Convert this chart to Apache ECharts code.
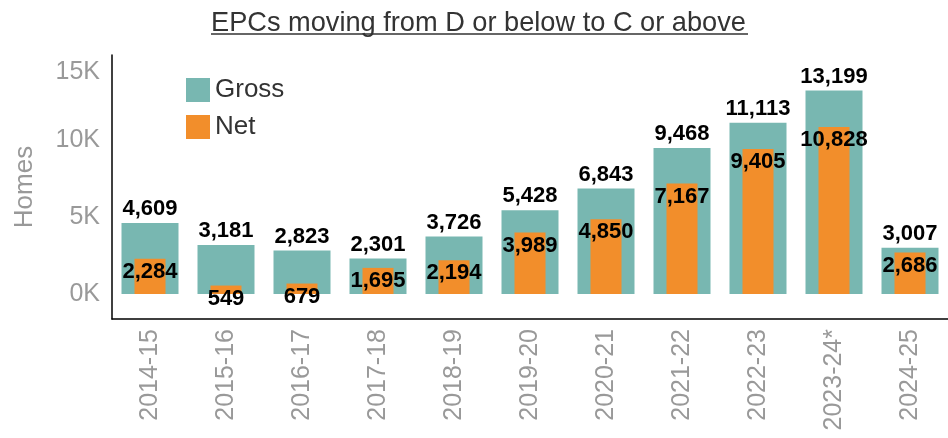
<!DOCTYPE html>
<html>
<head>
<meta charset="utf-8">
<script src="https://cdn.jsdelivr.net/npm/echarts@6/dist/echarts.min.js"></script>
<style>
  html, body { margin: 0; padding: 0; background: #fff; }
  #chart { width: 948px; height: 438px; }
</style>
</head>
<body>
<div id="chart"></div>
<script>
const categories = ['2014-15', '2015-16', '2016-17', '2017-18', '2018-19', '2019-20', '2020-21', '2021-22', '2022-23', '2023-24*', '2024-25']
const gross = [4609, 3181, 2823, 2301, 3726, 5428, 6843, 9468, 11113, 13199, 3007]
const net = [2284, 549, 679, 1695, 2194, 3989, 4850, 7167, 9405, 10828, 2686]
const yTicks = [0, 5000, 10000, 15000]

const FONT = '"Liberation Sans", Arial, sans-serif'
const fmt = (v) => v.toLocaleString('en-US')

const chart = echarts.init(document.getElementById('chart'))

chart.setOption({
  animation: false,
  title: {
    text: 'EPCs moving from D or below to C or above',
    left: 206,
    top: 5,
    textStyle: { fontFamily: FONT, fontSize: 27.2, fontWeight: 'normal', color: '#333' },
  },
  // underline under the title
  graphic: [
    {
      type: 'line',
      shape: { x1: 211, y1: 34, x2: 748, y2: 34 },
      style: { stroke: '#333', lineWidth: 1.5 },
    },
  ],
  legend: {
    orient: 'vertical',
    left: 181,
    top: 72,
    itemWidth: 24,
    itemHeight: 24,
    itemGap: 11,
    icon: 'rect',
    textStyle: { fontFamily: FONT, fontSize: 26, color: '#333' },
    data: ['Gross', 'Net'],
  },
  grid: { left: 112, right: 0, top: 55, bottom: 119 },
  xAxis: [
    {
      type: 'category',
      data: categories,
      axisLine: { onZero: false, lineStyle: { color: '#000', width: 1.5 } },
      axisTick: { show: false },
      axisLabel: { rotate: 90, margin: 10, fontFamily: FONT, fontSize: 25, color: '#999' },
    },
    {
      type: 'category',
      data: categories,
      show: false,
    },
  ],
  yAxis: {
    type: 'value',
    min: -1620,
    max: 15500,
    name: 'Homes',
    nameLocation: 'middle',
    nameGap: 74,
    nameTextStyle: { fontFamily: FONT, fontSize: 26, color: '#999' },
    axisLine: { show: true, lineStyle: { color: '#000', width: 1.5 } },
    axisTick: { show: false },
    splitLine: { show: false },
    axisLabel: {
      customValues: yTicks,
      margin: 12,
      fontFamily: FONT,
      fontSize: 25,
      color: '#999',
      // top label sits a bit lower in the original
      formatter: (v) => (v === 15000 ? '{low|15K}' : v / 1000 + 'K'),
      rich: {
        low: { fontFamily: FONT, fontSize: 25, color: '#999', padding: [18, 0, 0, 0] },
      },
    },
  },
  series: [
    {
      name: 'Gross',
      type: 'bar',
      xAxisIndex: 0,
      data: gross,
      barWidth: 57,
      itemStyle: { color: '#78b7b1' },
      label: {
        show: true,
        position: 'top',
        distance: 3,
        fontFamily: FONT,
        fontSize: 22,
        fontWeight: 'bold',
        color: '#000',
        formatter: (p) => fmt(p.value),
      },
    },
    {
      name: 'Net',
      type: 'bar',
      xAxisIndex: 1,
      data: net,
      barWidth: 31,
      itemStyle: { color: '#f28e2b' },
      label: {
        show: true,
        position: 'insideTop',
        distance: 2,
        fontFamily: FONT,
        fontSize: 22,
        fontWeight: 'bold',
        color: '#000',
        formatter: (p) => fmt(p.value),
      },
    },
  ],
})
</script>
</body>
</html>
